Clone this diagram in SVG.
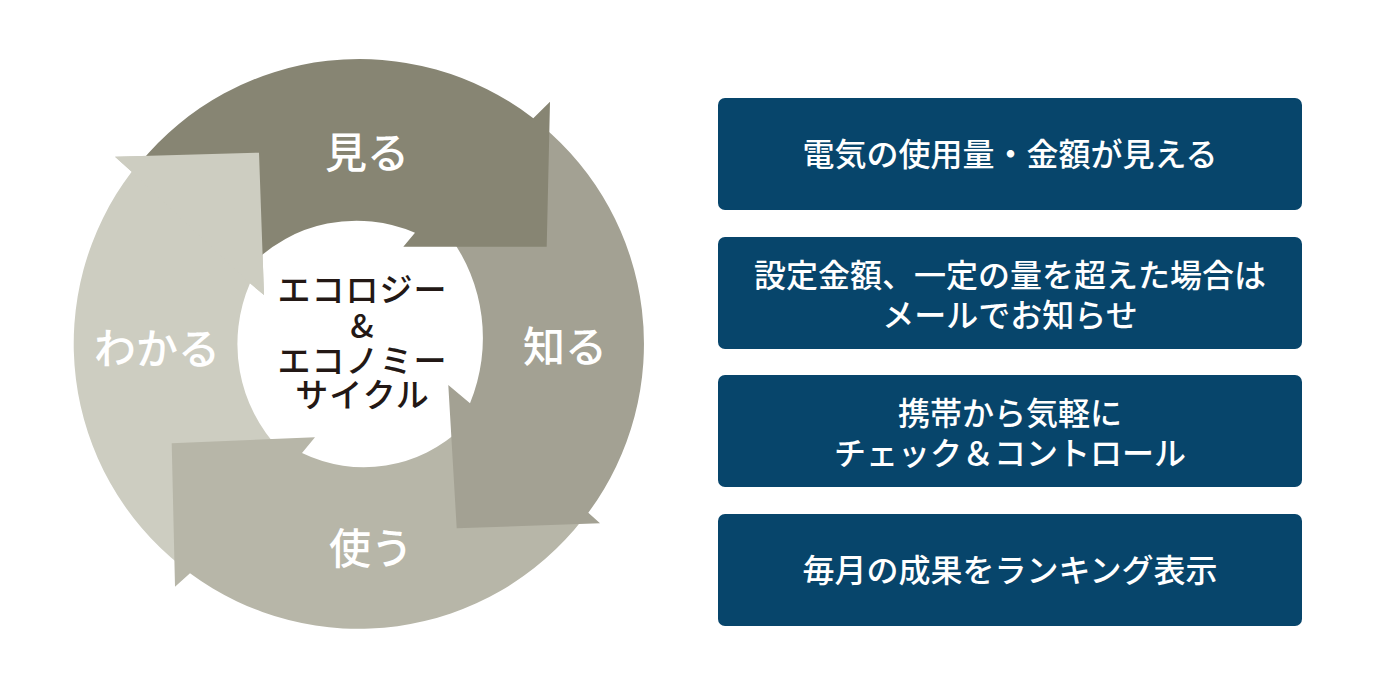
<svg xmlns="http://www.w3.org/2000/svg" width="1378" height="689" viewBox="0 0 1378 689">
<style>
.lbl{font-family:"Noto Sans CJK JP","Noto Sans CJK SC",sans-serif;font-weight:500;fill:#ffffff;text-anchor:middle}
.arr{font-size:42px}
.ctr{font-family:"Noto Sans CJK JP","Noto Sans CJK SC",sans-serif;font-weight:500;fill:#231815;font-size:33px;letter-spacing:1px;text-anchor:middle}
.box{fill:#07456b}
.btx{font-size:32px}
</style>
<rect width="1378" height="689" fill="#ffffff"/>
<g id="cycle">
  <g id="wakaru">
    <path fill="#cdcdc1" d="M181,566 A284,284 0 0 1 131.7,171.7 L115,156.7 L259,152.7 L264,295 L250,283.3 A153,153 0 0 0 280,450 Z"/>
  </g>
  <g id="tsukau">
    <path fill="#b7b6a8" d="M583,519 A284,284 0 0 1 190,573.3 L175,586.7 L171.7,443.3 L315,437.3 L302,453 A142,142 0 0 0 462,427.8 Z"/>
  </g>
  <g id="shiru">
    <path fill="#a3a193" d="M541,125 A284,284 0 0 1 588.3,512.7 L600,523.3 L456.7,528.3 L448.3,385 L470,403.3 A172,172 0 0 0 448.7,235 Z"/>
  </g>
  <g id="miru">
    <path fill="#878573" d="M140,163 A284,284 0 0 1 533.3,118.3 L550,101.7 L546.7,246.7 L403.3,246.7 L415,232.7 A148,148 0 0 0 250,266 Z"/>
  </g>
  <g id="wakaru-head">
    <polygon fill="#cdcdc1" points="131.7,171.7 115,156.7 259,152.7 264,295 250,283.3"/>
  </g>
  <text class="lbl arr" x="367" y="168">見る</text>
  <text class="lbl arr" x="565" y="362">知る</text>
  <text class="lbl arr" x="371" y="564">使う</text>
  <text class="lbl arr" x="157" y="364">わかる</text>
  <g id="center">
    <text class="ctr" x="362.5" y="302">エコロジー</text>
    <text class="ctr" x="362.5" y="338">&amp;</text>
    <text class="ctr" x="362.5" y="373">エコノミー</text>
    <text class="ctr" x="362.5" y="407">サイクル</text>
  </g>
</g>
<g id="connectors"></g>
<g id="box1">
  <rect class="box" x="718" y="98" width="584" height="112" rx="7"/>
  <text class="lbl btx" x="1010" y="166">電気の使用量・金額が見える</text>
</g>
<g id="box2">
  <rect class="box" x="718" y="237" width="584" height="112" rx="7"/>
  <text class="lbl btx" x="1010" y="287">設定金額、一定の量を超えた場合は</text>
  <text class="lbl btx" x="1010" y="327">メールでお知らせ</text>
</g>
<g id="box3">
  <rect class="box" x="718" y="375" width="584" height="112" rx="7"/>
  <text class="lbl btx" x="1010" y="425">携帯から気軽に</text>
  <text class="lbl btx" x="1010" y="465">チェック＆コントロール</text>
</g>
<g id="box4">
  <rect class="box" x="718" y="514" width="584" height="112" rx="7"/>
  <text class="lbl btx" x="1010" y="582">毎月の成果をランキング表示</text>
</g>
</svg>
